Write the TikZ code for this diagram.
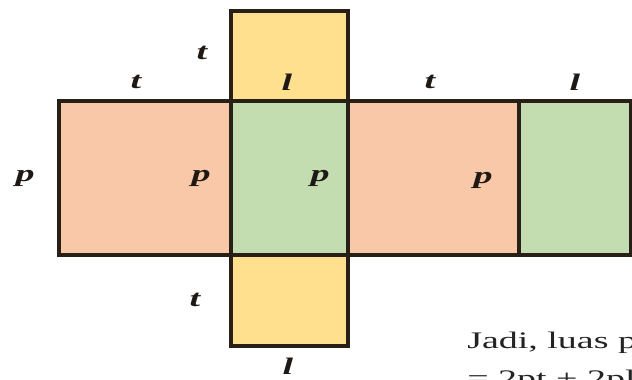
\documentclass[tikz,border=0pt]{standalone}
\usepackage{fontspec}
\setmainfont{Liberation Serif}
\newfontfamily\widefont[FakeStretch=1.6]{Liberation Serif}
\begin{document}
\begin{tikzpicture}[x=0.02cm,y=-0.02cm]
	\tikzstyle{every node}=[font=\widefont\fontsize{13.5}{15}\selectfont\bfseries\itshape, color={rgb,255:red,30; green,25; blue,20}]
	\tikzstyle{face}=[draw={rgb,255:red,40; green,32; blue,22}, line width=1.9pt]
	\tikzstyle{note}=[font=\widefont\fontsize{13.5}{15}\selectfont, color={rgb,255:red,35; green,35; blue,35}, anchor=base west, inner sep=0pt]
	\useasboundingbox (0,0) rectangle (632,379);
	\fill [white] (0,0) rectangle (632,379);
	% net of the box
	\draw [face, fill={rgb,255:red,248; green,200; blue,168}] (59,101) rectangle (231,255);
	\draw [face, fill={rgb,255:red,248; green,200; blue,168}] (348,101) rectangle (519,255);
	\draw [face, fill={rgb,255:red,196; green,221; blue,176}] (231,101) rectangle (348,255);
	\draw [face, fill={rgb,255:red,196; green,221; blue,176}] (519,101) rectangle (630.5,255);
	\draw [face, fill={rgb,255:red,255; green,224; blue,142}] (231,11) rectangle (348,101);
	\draw [face, fill={rgb,255:red,255; green,224; blue,142}] (231,255) rectangle (348,346);
	% labels
	\node (tTop) at (202,53) {t};
	\node (tLeft) at (136,82) {t};
	\node (lTop) at (287,82) {l};
	\node (tRight) at (430,82) {t};
	\node (lRight) at (575,82) {l};
	\node (pOut) at (25,178) {p};
	\node (pLeft) at (201,178) {p};
	\node (pMid) at (320,178) {p};
	\node (pRight) at (483,180) {p};
	\node (tBottom) at (195,300) {t};
	\node [inner sep=1pt] (lBottom) at (288,366) {l};
	% text below, cut by the edge
	\begin{scope}
		\clip (0,0) rectangle (632,379);
		\node [note] (jadi) at (467,348) {Jadi, luas p};
		\node [note] (sum) at (467,386) {= 2pt + 2pl};
	\end{scope}
\end{tikzpicture}
\end{document}
